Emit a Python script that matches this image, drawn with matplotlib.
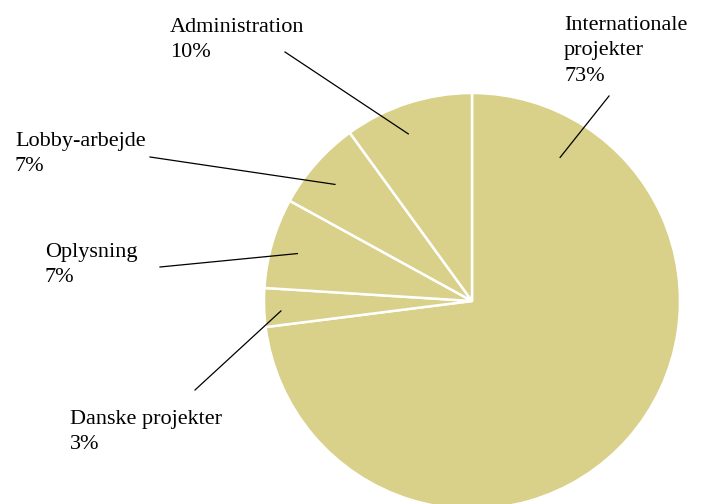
import numpy as np
import matplotlib.pyplot as plt

labels = ["Internationale\nprojekter", "Danske projekter", "Oplysning", "Lobby-arbejde", "Administration"]
shares = [73, 3, 7, 7, 10]

# label text placement (left x, top y in pixels) and where the leader line starts
text_pos = [(564, 16), (70, 410), (45, 243), (15, 132), (170, 18)]
line_out = [(609, 96), (195, 390), (160, 267), (150, 157), (285, 52)]
# anchor inside the wedge: fraction along the wedge's arc, fraction of radius
anchor_frac = [0.12, 0.39, 0.46, 0.46, 0.42]
anchor_rad = [0.81, 0.92, 0.87, 0.865, 0.86]

W, H = 702, 504
cx, cy, R = 472, H - 301, 208
color = "#D9D08A"

fig = plt.figure(figsize=(W / 100, H / 100), dpi=100)
ax = fig.add_axes([0, 0, 1, 1])

ax.pie(shares, colors=[color] * len(shares), startangle=90, counterclock=False,
       center=(cx, cy), radius=R, frame=True,
       wedgeprops=dict(edgecolor="white", linewidth=1.8))
ax.set_xlim(0, W)
ax.set_ylim(0, H)
ax.set_aspect("equal")
ax.axis("off")

start = 90.0
for lab, s, tp, lo, af, ar in zip(labels, shares, text_pos, line_out, anchor_frac, anchor_rad):
    span = s / sum(shares) * 360
    ang = np.deg2rad(start - span * af)
    start -= span
    ax_x = cx + ar * R * np.cos(ang)
    ax_y = cy + ar * R * np.sin(ang)
    ax.plot([lo[0], ax_x], [H - lo[1], ax_y], color="black", lw=0.9)
    ax.text(tp[0], H - tp[1], f"{lab}\n{s}%", ha="left", va="top",
            fontsize=16, family="Liberation Serif", linespacing=1.45)

fig.savefig("out.png", dpi=100)
